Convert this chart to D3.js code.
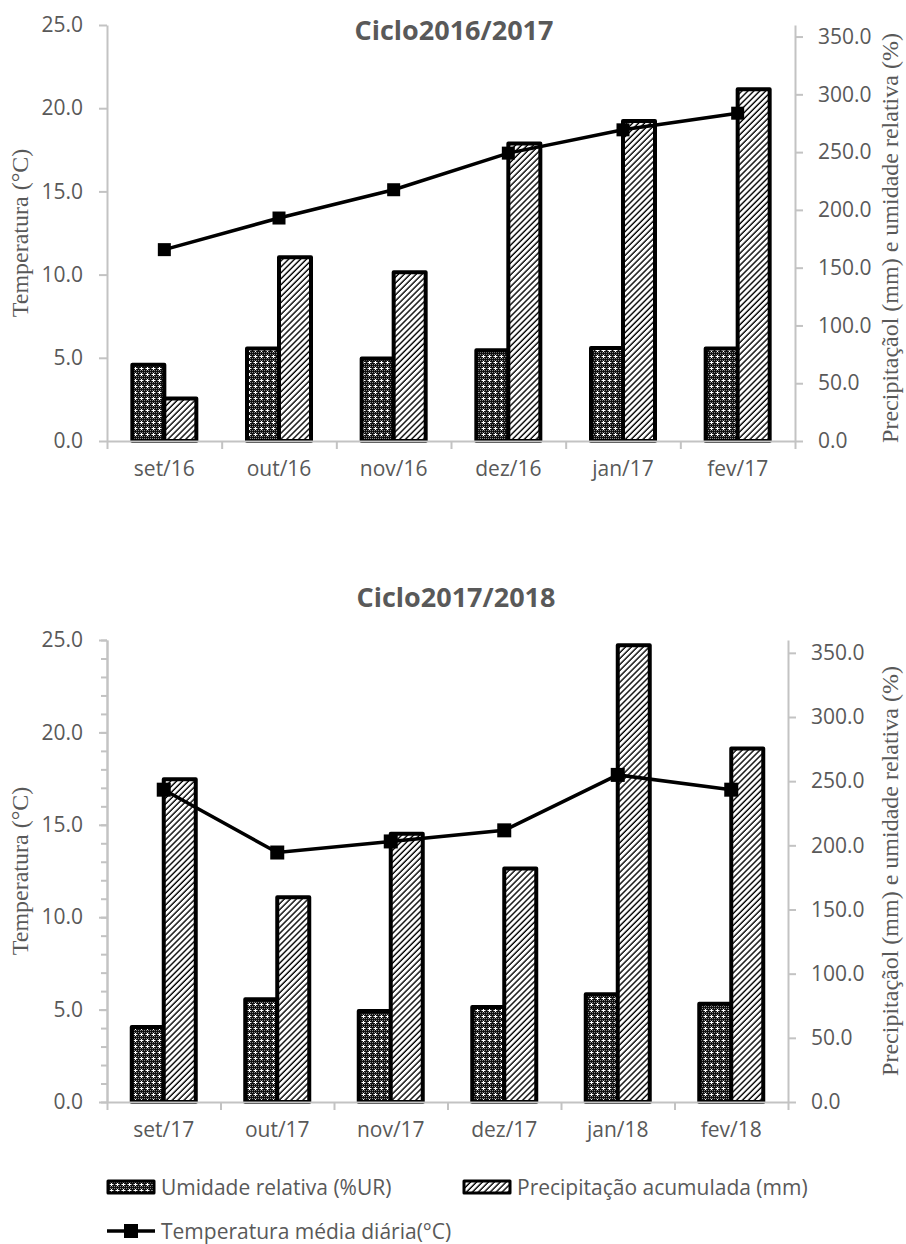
<!DOCTYPE html>
<html>
<head>
<meta charset="utf-8">
<script src="https://cdn.jsdelivr.net/npm/d3@7"></script>
<style>
  html, body { margin: 0; padding: 0; background: #fff; }
  svg { display: block; }
</style>
</head>
<body>
<svg id="chart" width="906" height="1244"></svg>
<script>
// ---- data ----
const months1617 = ["set/16", "out/16", "nov/16", "dez/16", "jan/17", "fev/17"];
const humidity1617 = [66, 80, 71.5, 78.5, 80.5, 80];
const rain1617 = [36.8, 159, 146, 257.5, 277, 304.5];
const temp1617 = [11.5, 13.4, 15.1, 17.3, 18.7, 19.7];

const months1718 = ["set/17", "out/17", "nov/17", "dez/17", "jan/18", "fev/18"];
const humidity1718 = [58.5, 80, 71, 74, 84, 76.5];
const rain1718 = [251.5, 159.5, 209, 182, 356, 275.5];
const temp1718 = [16.9, 13.5, 14.1, 14.7, 17.7, 16.9];

const tempTicks = [0, 5, 10, 15, 20, 25];
const rainTicks = [0, 50, 100, 150, 200, 250, 300, 350];
const tempMinorTicks = d3.range(0, 26, 1);

const titles = ["Ciclo2016/2017", "Ciclo2017/2018"];
const leftTitle = "Temperatura (°C)";
const rightTitle = "Precipitaçãol (mm) e umidade relativa (%)";
const legendLabels = ["Umidade relativa (%UR)", "Precipitação acumulada (mm)", "Temperatura média diária(°C)"];

// ---- styling ----
const sans = "'Open Sans', 'Noto Sans', sans-serif";
const serif = "'Liberation Serif', 'DejaVu Serif', serif";
const textGray = "#595959";
const axisGray = "#c3c3c3";

const svg = d3.select("#chart");
const defs = svg.append("defs");

// dark checker fill with small white crosses
const chk = defs.append("pattern").attr("id", "checker")
  .attr("patternUnits", "userSpaceOnUse").attr("width", 6).attr("height", 6);
chk.append("rect").attr("width", 6).attr("height", 6).attr("fill", "#111");
[[0,0],[2,0],[4,0],[1,2],[5,2],[0,4],[2,4],[4,4]].forEach(([x, y]) =>
  chk.append("rect").attr("x", x).attr("y", y).attr("width", 1).attr("height", 1).attr("fill", "#8a8a8a"));
[[3,1],[2,2],[3,2],[4,2],[3,3]].forEach(([x, y]) =>
  chk.append("rect").attr("x", x).attr("y", y).attr("width", 1).attr("height", 1).attr("fill", "#ffffff"));

// upward diagonal hatch
const hat = defs.append("pattern").attr("id", "hatch")
  .attr("patternUnits", "userSpaceOnUse").attr("width", 4.2).attr("height", 8)
  .attr("patternTransform", "rotate(45)");
hat.append("rect").attr("width", 4.2).attr("height", 8).attr("fill", "#fff");
hat.append("line").attr("x1", 1).attr("x2", 1).attr("y1", 0).attr("y2", 8)
  .attr("stroke", "#000").attr("stroke-width", 1.4);

function drawPanel(p) {
  const g = svg.append("g");
  const x = d3.scaleBand().domain(p.months).range([p.left, p.right]);
  const xEdge = d3.scaleLinear().domain([0, p.months.length]).range([p.left, p.right]);
  const yL = d3.scaleLinear().domain([0, 25]).range([p.bottom, p.top]);
  const yR = d3.scaleLinear().domain([0, 360]).range([p.bottom, p.top]);

  const styleAxis = sel => {
    sel.selectAll(".domain").attr("stroke", axisGray).attr("stroke-width", 2);
    sel.selectAll(".tick line").attr("stroke", axisGray).attr("stroke-width", 2);
  };

  // left axis
  if (p.minor) {
    g.append("g").attr("transform", `translate(${p.left},0)`)
      .call(d3.axisLeft(yL).tickValues(tempMinorTicks).tickSize(6).tickSizeOuter(0).tickFormat(""))
      .call(styleAxis);
  }
  const gl = g.append("g").attr("transform", `translate(${p.left},0)`)
    .call(d3.axisLeft(yL).tickValues(tempTicks).tickSize(8).tickSizeOuter(0).tickPadding(16)
      .tickFormat(d3.format(".1f")))
    .call(styleAxis);
  gl.selectAll("text").attr("font-family", sans).attr("font-size", 21).attr("fill", textGray);

  // right axis
  const gr = g.append("g").attr("transform", `translate(${p.right},0)`)
    .call(d3.axisRight(yR).tickValues(rainTicks).tickSize(8).tickSizeOuter(0).tickPadding(15)
      .tickFormat(d3.format(".1f")))
    .call(styleAxis);
  gr.selectAll("text").attr("font-family", sans).attr("font-size", 21).attr("fill", textGray);

  // bars
  const bw = 32;
  const grp = g.append("g").attr("stroke", "#000").attr("stroke-width", 4).attr("stroke-linejoin", "round");
  grp.selectAll("rect.hum").data(p.months).join("rect").attr("class", "hum")
    .attr("x", d => x(d) + x.bandwidth() / 2 - bw)
    .attr("width", bw)
    .attr("y", (d, i) => yR(p.humidity[i]))
    .attr("height", (d, i) => yR(0) - yR(p.humidity[i]))
    .attr("fill", "url(#checker)");
  grp.selectAll("rect.rain").data(p.months).join("rect").attr("class", "rain")
    .attr("x", d => x(d) + x.bandwidth() / 2)
    .attr("width", bw)
    .attr("y", (d, i) => yR(p.rain[i]))
    .attr("height", (d, i) => yR(0) - yR(p.rain[i]))
    .attr("fill", "url(#hatch)");

  // category axis: boundary ticks + centered labels
  g.append("g").attr("transform", `translate(0,${p.bottom})`)
    .call(d3.axisBottom(xEdge).tickValues(d3.range(0, p.months.length + 1)).tickSize(8)
      .tickSizeOuter(0).tickFormat(""))
    .call(styleAxis);
  const gx = g.append("g").attr("transform", `translate(0,${p.bottom})`)
    .call(d3.axisBottom(x).tickSize(0).tickPadding(p.catPad));
  gx.select(".domain").remove();
  gx.selectAll("text").attr("font-family", sans).attr("font-size", 21).attr("fill", textGray);

  // temperature line
  const cx = d => x(d) + x.bandwidth() / 2;
  g.append("path")
    .datum(p.months.map((m, i) => [cx(m), yL(p.temp[i])]))
    .attr("d", d3.line())
    .attr("fill", "none").attr("stroke", "#000").attr("stroke-width", 3.5);
  g.selectAll("rect.mk").data(p.months).join("rect").attr("class", "mk")
    .attr("x", d => cx(d) - p.mk / 2)
    .attr("y", (d, i) => yL(p.temp[i]) - p.mk / 2)
    .attr("width", p.mk).attr("height", p.mk).attr("fill", "#000");

  // titles
  g.append("text").attr("x", p.titleX).attr("y", p.titleY).attr("text-anchor", "middle")
    .attr("font-family", sans).attr("font-weight", "bold").attr("font-size", 27).attr("fill", textGray)
    .text(p.title);
  g.append("text").attr("transform", `translate(28,${p.leftTitleY}) rotate(-90)`)
    .attr("text-anchor", "middle").attr("font-family", serif).attr("font-size", 24).attr("fill", textGray)
    .text(leftTitle);
  g.append("text").attr("transform", `translate(${p.rightTitleX},${p.rightTitleY}) rotate(-90)`)
    .attr("text-anchor", "middle").attr("font-family", serif).attr("font-size", 24).attr("fill", textGray)
    .text(rightTitle);
}

drawPanel({
  months: months1617, humidity: humidity1617, rain: rain1617, temp: temp1617,
  left: 107, right: 795, top: 25, bottom: 441, minor: false,
  catPad: 20, mk: 13,
  title: titles[0], titleX: 454, titleY: 40,
  leftTitleY: 233, rightTitleX: 898, rightTitleY: 238
});

drawPanel({
  months: months1718, humidity: humidity1718, rain: rain1718, temp: temp1718,
  left: 107, right: 788, top: 640, bottom: 1102, minor: true,
  catPad: 20, mk: 14,
  title: titles[1], titleX: 456, titleY: 607,
  leftTitleY: 871, rightTitleX: 898, rightTitleY: 871
});

// legend
const lg = svg.append("g").attr("font-family", sans).attr("font-size", 21).attr("fill", textGray);
const sw = [{x: 108, fill: "url(#checker)"}, {x: 464, fill: "url(#hatch)"}];
sw.forEach((s, i) => {
  lg.append("rect").attr("x", s.x).attr("y", 1181).attr("width", 46).attr("height", 12)
    .attr("fill", s.fill).attr("stroke", "#000").attr("stroke-width", 3).attr("stroke-linejoin", "round");
  lg.append("text").attr("x", s.x + 53).attr("y", 1195).text(legendLabels[i]);
});
lg.append("line").attr("x1", 107).attr("x2", 155).attr("y1", 1231).attr("y2", 1231)
  .attr("stroke", "#000").attr("stroke-width", 3.5);
lg.append("rect").attr("x", 124).attr("y", 1224).attr("width", 14).attr("height", 14).attr("fill", "#000");
lg.append("text").attr("x", 161).attr("y", 1239).text(legendLabels[2]);
</script>
</body>
</html>
